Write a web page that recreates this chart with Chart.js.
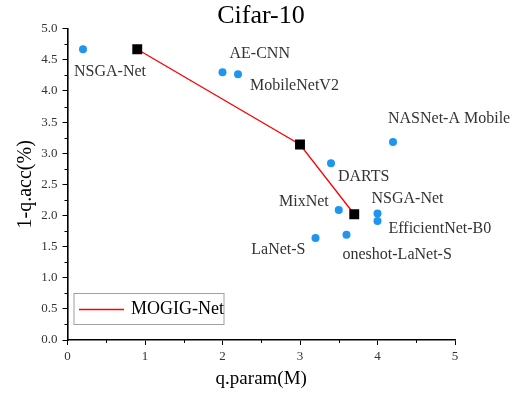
<!DOCTYPE html>
<html>
<head>
<meta charset="utf-8">
<script src="https://cdn.jsdelivr.net/npm/chart.js@4.4.0/dist/chart.umd.min.js"></script>
<style>
  html, body { margin: 0; padding: 0; background: #fff; }
  #wrap { width: 522px; height: 394px; }
</style>
</head>
<body>
<div id="wrap"><canvas id="cifarChart" width="522" height="394"></canvas></div>
<script>
// other searched / hand-designed networks
var otherNames = ['NSGA-Net', 'AE-CNN', 'MobileNetV2', 'NASNet-A Mobile', 'DARTS',
                  'MixNet', 'NSGA-Net', 'EfficientNet-B0', 'LaNet-S', 'oneshot-LaNet-S'];
var otherParams = [0.2, 2.0, 2.2, 4.2, 3.4, 3.5, 4.0, 4.0, 3.2, 3.6];
var otherErrors = [4.67, 4.3, 4.27, 3.18, 2.84, 2.09, 2.03, 1.91, 1.64, 1.69];

// MOGIG-Net front
var mogigParams = [0.9, 3.0, 3.7];
var mogigErrors = [4.67, 3.14, 2.02];

// where each name sits relative to its dot: [dx, dy, align]
var labelPlacement = [
    [-9, 23, 'left'], [7, -18, 'left'], [12, 12, 'left'], [-5, -23, 'left'], [7, 14, 'left'],
    [-10, -8, 'right'], [-6, -15, 'left'], [11, 8, 'left'], [-10, 12, 'right'], [-4, 20, 'left']
];

var FONT = "'Liberation Serif', 'DejaVu Serif', serif";

var otherPoints = otherParams.map(function (p, i) { return { x: p, y: otherErrors[i] }; });
var mogigPoints = mogigParams.map(function (p, i) { return { x: p, y: mogigErrors[i] }; });

var pointLabels = {
    id: 'pointLabels',
    afterDatasetsDraw: function (chart) {
        var ctx = chart.ctx;
        var meta = chart.getDatasetMeta(0);
        ctx.save();
        ctx.font = '16px ' + FONT;
        ctx.fillStyle = '#333';
        ctx.textBaseline = 'middle';
        meta.data.forEach(function (el, i) {
            var pl = labelPlacement[i];
            ctx.textAlign = pl[2];
            ctx.fillText(otherNames[i], el.x + pl[0], el.y + pl[1]);
        });
        ctx.restore();
    }
};

// minor ticks between the labelled ones
var minorTicks = {
    id: 'minorTicks',
    afterDraw: function (chart) {
        var ctx = chart.ctx;
        var a = chart.chartArea;
        var xs = chart.scales.x, ys = chart.scales.y;
        ctx.save();
        ctx.strokeStyle = '#000';
        ctx.lineWidth = 1;
        ctx.beginPath();
        for (var v = 0.25; v < 5; v += 0.5) {
            var py = Math.round(ys.getPixelForValue(v)) + 0.5;
            ctx.moveTo(a.left, py);
            ctx.lineTo(a.left - 3, py);
        }
        for (var u = 0.5; u < 5; u += 1) {
            var px = Math.round(xs.getPixelForValue(u)) + 0.5;
            ctx.moveTo(px, a.bottom);
            ctx.lineTo(px, a.bottom + 3);
        }
        ctx.stroke();
        ctx.restore();
    }
};

// boxed legend in the lower left of the plot
var boxLegend = {
    id: 'boxLegend',
    afterDraw: function (chart) {
        var ctx = chart.ctx;
        var a = chart.chartArea;
        var ds = chart.data.datasets[1];
        var left = a.left + 6.5, top = a.bottom - 46.5;
        ctx.save();
        ctx.strokeStyle = '#a0a0a0';
        ctx.lineWidth = 1;
        ctx.strokeRect(left, top, 150, 31);
        ctx.strokeStyle = ds.borderColor;
        ctx.lineWidth = 1.3;
        ctx.beginPath();
        ctx.moveTo(left + 5, top + 16);
        ctx.lineTo(left + 50, top + 16);
        ctx.stroke();
        ctx.fillStyle = '#000';
        ctx.font = '18px ' + FONT;
        ctx.textAlign = 'left';
        ctx.textBaseline = 'middle';
        ctx.fillText(ds.label, left + 57, top + 16);
        ctx.restore();
    }
};

var ctx = document.getElementById('cifarChart').getContext('2d');
var cifarChart = new Chart(ctx, {
    type: 'scatter',
    data: {
        datasets: [{
            label: 'others',
            data: otherPoints,
            pointRadius: 4,
            pointHoverRadius: 4,
            pointBackgroundColor: '#1E96F0',
            pointBorderWidth: 0
        }, {
            label: 'MOGIG-Net',
            data: mogigPoints,
            showLine: true,
            borderColor: '#FF0000',
            borderWidth: 1.3,
            pointStyle: 'rect',
            pointRadius: 7,
            pointHoverRadius: 7,
            pointBackgroundColor: '#000',
            pointBorderWidth: 0
        }]
    },
    options: {
        responsive: false,
        animation: false,
        layout: { padding: 0 },
        plugins: {
            legend: { display: false },
            tooltip: { enabled: false },
            title: {
                display: true,
                text: 'Cifar-10',
                color: '#000',
                font: { family: FONT, size: 26, weight: 'normal', lineHeight: 0.95 },
                padding: { top: 4, bottom: 0 }
            }
        },
        scales: {
            x: {
                min: 0, max: 5,
                ticks: { stepSize: 1, color: '#333', padding: 4, font: { family: FONT, size: 13 } },
                grid: { drawOnChartArea: false, drawTicks: true, tickLength: 5, color: '#000' },
                border: { display: true, color: '#000', width: 1.6 },
                title: {
                    display: true, text: 'q.param(M)', color: '#000',
                    font: { family: FONT, size: 19 }, padding: { top: 4, bottom: 4 }
                },
                afterFit: function (s) { s.height = 54; }
            },
            y: {
                min: 0, max: 5,
                ticks: {
                    stepSize: 0.5, color: '#333', padding: 5, font: { family: FONT, size: 13 },
                    callback: function (v) { return v.toFixed(1); }
                },
                grid: { drawOnChartArea: false, drawTicks: true, tickLength: 5, color: '#000' },
                border: { display: true, color: '#000', width: 1.6 },
                title: {
                    display: true, text: '1-q.acc(%)', color: '#000',
                    font: { family: FONT, size: 20 }, padding: { top: 14, bottom: 4 }
                },
                afterFit: function (s) { s.width = 67.5; }
            },
            yRight: {
                position: 'right',
                display: true,
                ticks: { display: false },
                grid: { display: false },
                border: { display: false },
                afterFit: function (s) { s.width = 67; }
            }
        }
    },
    plugins: [pointLabels, minorTicks, boxLegend]
});
</script>
</body>
</html>
